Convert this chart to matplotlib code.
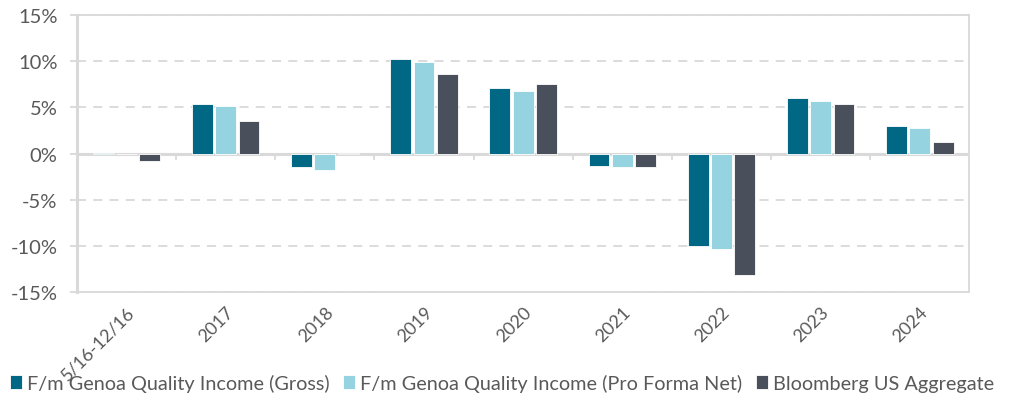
import matplotlib.pyplot as plt
import matplotlib.transforms as mtransforms
import numpy as np
from matplotlib.ticker import FuncFormatter

categories = ["5/16-12/16", "2017", "2018", "2019", "2020", "2021", "2022", "2023", "2024"]
gross = [0.1, 5.4, -1.5, 10.2, 7.1, -1.3, -10.0, 6.0, 3.0]
net = [-0.1, 5.1, -1.8, 9.9, 6.8, -1.5, -10.3, 5.7, 2.8]
agg = [-0.8, 3.5, 0.1, 8.6, 7.5, -1.5, -13.1, 5.4, 1.2]
series_names = [
    "F/m Genoa Quality Income (Gross)",
    "F/m Genoa Quality Income (Pro Forma Net)",
    "Bloomberg US Aggregate",
]

colors = ["#006785", "#96d3e0", "#4a505b"]
text_color = "#595959"
line_color = "#d9d9d9"

plt.rcParams["font.family"] = ["Lato", "DejaVu Sans"]

fig = plt.figure(figsize=(10.13, 4.02), dpi=100)
ax = fig.add_axes([0.076, 0.271, 0.881, 0.689])

x = np.arange(len(categories))
width = 0.21
step = 0.235
for i, (vals, name) in enumerate(zip([gross, net, agg], series_names)):
    ax.bar(x + (i - 1) * step, vals, width, color=colors[i], label=name,
           edgecolor="white", linewidth=0.6, zorder=3)

ax.set_xlim(-0.5, len(categories) - 0.5)
ax.set_ylim(-15, 15)
ax.set_yticks(range(-15, 16, 5))
ax.yaxis.set_major_formatter(FuncFormatter(lambda v, p: f"{v:.0f}%"))
ax.grid(axis="y", color=line_color, linestyle=(0, (5, 4)), linewidth=1.3, zorder=0)

for side in ["top", "right", "bottom"]:
    ax.spines[side].set_color(line_color)
    ax.spines[side].set_linewidth(1.3)
ax.spines["left"].set_color(line_color)
ax.spines["left"].set_linewidth(2.2)
ax.axhline(0, color=line_color, linewidth=2.2, zorder=2)

# category boundary tick marks on zero line
for b in np.arange(0.5, len(categories) - 0.5, 1.0):
    ax.plot([b, b], [0, -0.6], color=line_color, linewidth=1.3, zorder=2)

ax.set_xticks(x)
ax.set_xticklabels(categories, rotation=45, ha="right", va="top", rotation_mode="anchor",
                   fontsize=13, color=text_color)
shift = mtransforms.ScaledTranslation(3 / 72, 0, fig.dpi_scale_trans)
for lab in ax.get_xticklabels():
    lab.set_transform(lab.get_transform() + shift)
ax.tick_params(axis="x", length=0, pad=8)
ax.tick_params(axis="y", length=5, color=line_color, width=1.3,
               labelsize=14.5, labelcolor=text_color, pad=9)

ax.legend(loc="lower left", bbox_to_anchor=(-0.084, -0.39), ncol=3, frameon=False,
          fontsize=14.3, labelcolor=text_color, handlelength=0.6, handleheight=0.7,
          handletextpad=0.25, columnspacing=0.7, borderaxespad=0)

fig.savefig("out.png", dpi=100)
